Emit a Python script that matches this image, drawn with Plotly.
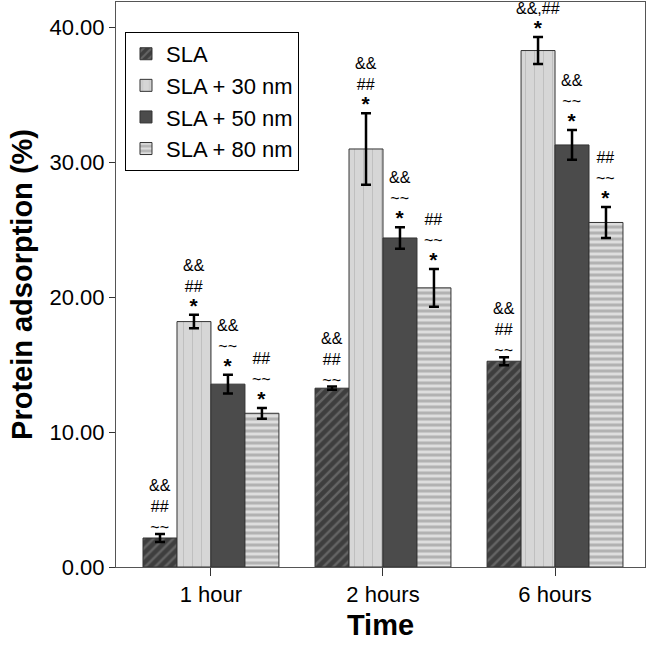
import plotly.graph_objects as go

categories = ["1 hour", "2 hours", "6 hours"]
series_names = ["SLA", "SLA + 30 nm", "SLA + 50 nm", "SLA + 80 nm"]
sla = [2.15, 13.26, 15.26]
sla_err = [0.3, 0.12, 0.3]
sla30 = [18.2, 31.0, 38.3]
sla30_err = [0.5, 2.65, 1.0]
sla50 = [13.56, 24.4, 31.3]
sla50_err = [0.7, 0.8, 1.1]
sla80 = [11.4, 20.7, 25.55]
sla80_err = [0.4, 1.4, 1.15]

sig_sla = ["&&<br>##<br>~~", "&&<br>##<br>~~", "&&<br>##<br>~~"]
sig_30 = ["&&<br>##<br>*", "&&<br>##<br>*", "&&,##<br>*"]
sig_50 = ["&&<br>~~<br>*", "&&<br>~~<br>*", "&&<br>~~<br>*"]
sig_80 = ["##<br>~~<br>*", "##<br>~~<br>*", "##<br>~~<br>*"]

values = [sla, sla30, sla50, sla80]
errors = [sla_err, sla30_err, sla50_err, sla80_err]
sigs = [sig_sla, sig_30, sig_50, sig_80]

FONT = "Liberation Sans, Arial, sans-serif"
BARGAP = 0.21

patterns = [
    dict(shape="/", bgcolor="#3e3e3e", fgcolor="#8a8a8a", size=7, solidity=0.35),
    dict(shape="|", bgcolor="#d6d6d6", fgcolor="#a4a4a4", size=9, solidity=0.1),
    dict(shape="", bgcolor="#4b4b4b", fgcolor="#4b4b4b"),
    dict(shape="-", bgcolor="#dedede", fgcolor="#858585", size=6, solidity=0.5),
]
colors = ["#3e3e3e", "#d6d6d6", "#4b4b4b", "#dedede"]

xpos = list(range(len(categories)))

fig = go.Figure()
for i, name in enumerate(series_names):
    fig.add_trace(go.Bar(
        x=xpos, y=values[i], name=name,
        marker=dict(color=colors[i], pattern=patterns[i],
                    line=dict(color="#333333", width=1)),
        error_y=dict(type="data", array=errors[i], color="black",
                     thickness=2.5, width=5),
    ))

bw = (1 - BARGAP) / len(series_names)
annotations = []
for i in range(len(series_names)):
    for j in range(len(categories)):
        xc = xpos[j] + (i - (len(series_names) - 1) / 2) * bw
        txt = sigs[i][j].replace("*", "<span style='font-size:21px'><b>*</b></span>")
        annotations.append(dict(
            x=xc, y=values[i][j] + errors[i][j], xref="x", yref="y",
            text=txt, showarrow=False, yanchor="bottom", yshift=-3,
            font=dict(family=FONT, size=16, color="black"), align="center",
            borderpad=0,
        ))

fig.update_layout(
    width=652, height=646,
    margin=dict(l=116, r=7, t=2, b=79),
    paper_bgcolor="white", plot_bgcolor="white",
    barmode="group", bargap=BARGAP, bargroupgap=0,
    font=dict(family=FONT, color="black"),
    showlegend=True,
    legend=dict(x=0.017, y=0.947, xanchor="left", yanchor="top",
                bordercolor="black", borderwidth=1, bgcolor="white",
                font=dict(family=FONT, size=22), tracegroupgap=0,
                itemwidth=30),
    annotations=annotations,
)
fig.update_xaxes(
    range=[-0.552, 2.523], tickmode="array", tickvals=xpos, ticktext=categories,
    ticks="outside", ticklen=8, tickcolor="#333", showline=True, linecolor="#555",
    mirror=True, showgrid=False, zeroline=False,
    tickfont=dict(family=FONT, size=22),
    title=dict(text="<b>Time</b>", font=dict(family=FONT, size=29), standoff=8),
)
fig.update_yaxes(
    range=[0, 41.9], tickvals=[0, 10, 20, 30, 40], tickformat=".2f",
    ticks="outside", ticklen=6, tickcolor="#333", showline=True, linecolor="#555",
    mirror=True, showgrid=False, zeroline=False,
    tickfont=dict(family=FONT, size=22),
    title=dict(text="<b>Protein adsorption (%)</b>", font=dict(family=FONT, size=29), standoff=8),
)

fig.write_html("out.html", config={"displayModeBar": False},
               post_script="document.body.style.margin='0';document.body.style.overflow='hidden';")
